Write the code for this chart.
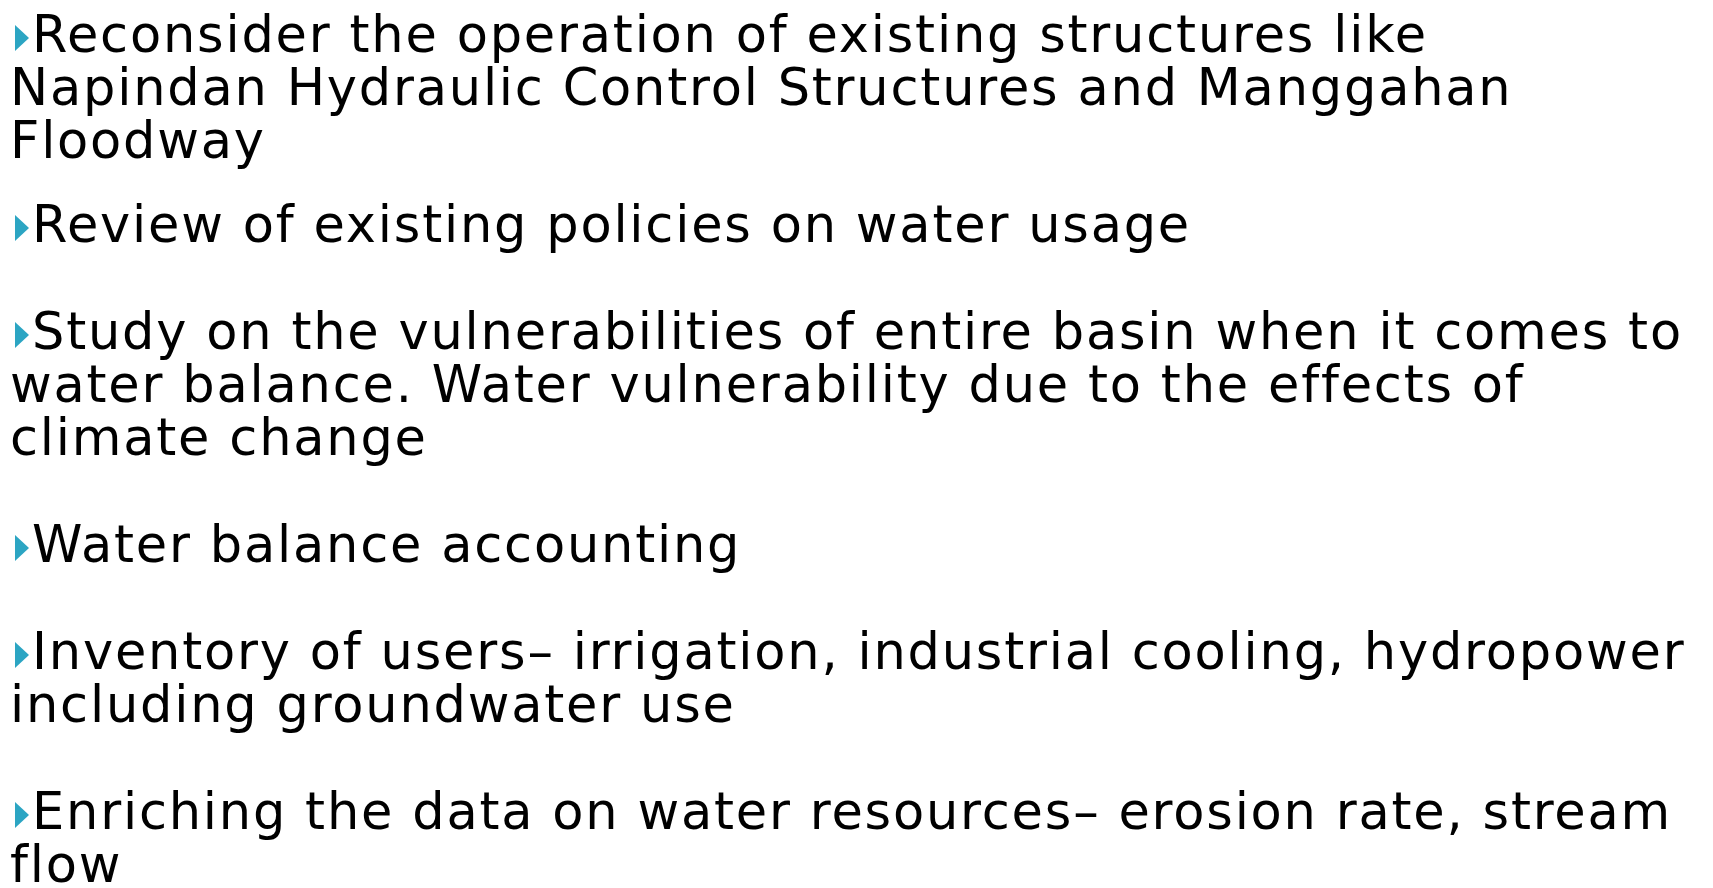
<!DOCTYPE html>
<html>
<head>
<meta charset="utf-8">
<script src="https://cdn.jsdelivr.net/npm/chart.js@4"></script>
<style>
  html, body { margin: 0; padding: 0; background: #fff; }
  body { width: 1713px; height: 888px; overflow: hidden; position: relative; }
  #slide { position: absolute; left: 10px; top: 8px; width: 1703px;
           font-family: "DejaVu Sans", Verdana, sans-serif; font-size: 51px;
           letter-spacing: 1.8px; line-height: 53px; color: #000; white-space: nowrap; }
  #slide p { margin: 0; }
  #slide p + p { margin-top: 54px; }
  #slide p.first-gap + p { margin-top: 31px; }
  .tri { display: inline-block; width: 0; height: 0; margin: 0 3px 0 5px;
         border-top: 13.5px solid transparent; border-bottom: 13.5px solid transparent;
         border-left: 14px solid #2ca5c3; vertical-align: 1px; }
</style>
</head>
<body>
<div id="slide"></div>
<script>
// bullet points of the slide, top to bottom, split into the lines they wrap to
const bullets = [
  ['Reconsider the operation of existing structures like',
   'Napindan Hydraulic Control Structures and Manggahan',
   'Floodway'],
  ['Review of existing policies on water usage'],
  ['Study on the vulnerabilities of entire basin when it comes to',
   'water balance. Water vulnerability due to the effects of',
   'climate change'],
  ['Water balance accounting'],
  ['Inventory of users\u2013 irrigation, industrial cooling, hydropower',
   'including groundwater use'],
  ['Enriching the data on water resources\u2013 erosion rate, stream',
   'flow']
];

const slide = document.getElementById('slide');
for (let i = 0; i < bullets.length; i++) {
  const p = document.createElement('p');
  if (i === 0) p.className = 'first-gap';
  const t = document.createElement('span');
  t.className = 'tri';
  p.appendChild(t);
  bullets[i].forEach((line, j) => {
    if (j > 0) p.appendChild(document.createElement('br'));
    p.appendChild(document.createTextNode(line));
  });
  slide.appendChild(p);
}
</script>
</body>
</html>
